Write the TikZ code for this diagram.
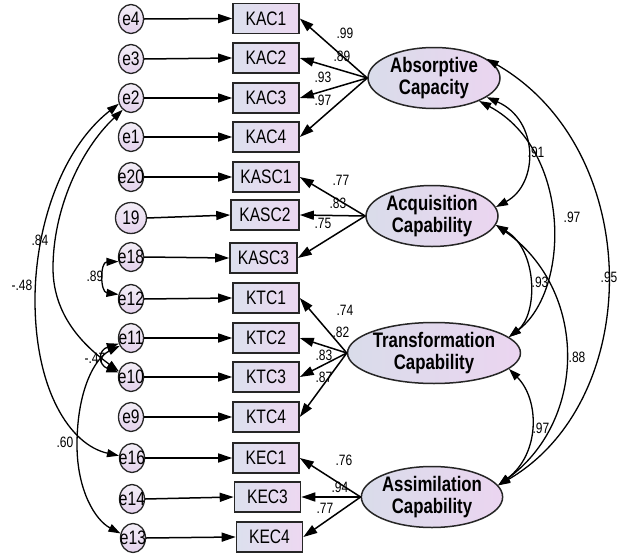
\documentclass[tikz,border=0pt]{standalone}
\usepackage{fontspec}
\setmainfont{Liberation Sans}
\newfontfamily\nsans[FakeStretch=0.8]{Liberation Sans}
\usetikzlibrary{arrows.meta,shapes.geometric}
\definecolor{errtop}{HTML}{F3EEF7}
\definecolor{errbot}{HTML}{E4D2EC}
\definecolor{boxl}{HTML}{DCE0EE}
\definecolor{boxr}{HTML}{EDD8F1}
\definecolor{ell}{HTML}{D9DCEA}
\definecolor{elr}{HTML}{EBD5F0}
\begin{document}
\begin{tikzpicture}[x=1pt,y=-1pt,
  errc/.style={ellipse,draw=black!85,line width=1.3pt,top color=errtop,bottom color=errbot,minimum width=25pt,minimum height=29pt,inner sep=0pt},
  errtxt/.style={font=\nsans\fontsize{19.5}{21}\selectfont,inner sep=0pt},
  obs/.style={rectangle,draw=black!85,line width=1.6pt,left color=boxl,right color=boxr,minimum width=66pt,minimum height=30pt,inner sep=0pt,font=\nsans\fontsize{19.5}{21}\selectfont},
  lat/.style={ellipse,draw=black!85,line width=1.5pt,left color=ell,right color=elr,minimum width=132pt,minimum height=61pt,inner sep=0pt,align=center,font=\nsans\bfseries\fontsize{21}{22}\selectfont},
  num/.style={font=\nsans\fontsize{15}{17}\selectfont,inner sep=0pt},
  arr/.style={line width=1.5pt,-{Triangle[length=14pt,width=9pt]}},
  cov/.style={line width=1.3pt,{Triangle[length=12pt,width=8pt]}-{Triangle[length=12pt,width=8pt]}}
]
\fill[white] (0,0) rectangle (619,557);
\useasboundingbox (0,0) rectangle (619,557);

% error terms
\node[errc,label={[errtxt]center:e4}] (e4) at (131,19) {};
\node[errc,label={[errtxt]center:e3}] (e3) at (131,59) {};
\node[errc,label={[errtxt]center:e2}] (e2) at (131,98) {};
\node[errc,label={[errtxt]center:e1}] (e1) at (131,137) {};
\node[errc,label={[errtxt]center:e20}] (e20) at (131,177) {};
\node[errc,minimum width=31pt,minimum height=31pt,label={[errtxt]center:19}] (e19) at (131,218) {};
\node[errc,label={[errtxt]center:e18}] (e18) at (131,257) {};
\node[errc,label={[errtxt]center:e12}] (e12) at (131,299) {};
\node[errc,label={[errtxt]center:e11}] (e11) at (131,338) {};
\node[errc,label={[errtxt]center:e10}] (e10) at (131,377) {};
\node[errc,label={[errtxt]center:e9}] (e9) at (131,417) {};
\node[errc,label={[errtxt]center:e16}] (e16) at (132,458) {};
\node[errc,label={[errtxt]center:e14}] (e14) at (132,499) {};
\node[errc,label={[errtxt]center:e13}] (e13) at (133,538) {};

% observed
\node[obs] (kac1) at (266,18.5) {KAC1};
\node[obs] (kac2) at (266,58) {KAC2};
\node[obs] (kac3) at (266,98) {KAC3};
\node[obs] (kac4) at (266,137) {KAC4};
\node[obs] (kasc1) at (266,177) {KASC1};
\node[obs,minimum width=68pt] (kasc2) at (265,215) {KASC2};
\node[obs,minimum width=67pt] (kasc3) at (263.5,258) {KASC3};
\node[obs] (ktc1) at (266,298) {KTC1};
\node[obs] (ktc2) at (266,338) {KTC2};
\node[obs] (ktc3) at (266,377) {KTC3};
\node[obs] (ktc4) at (266,417) {KTC4};
\node[obs] (kec1) at (266,458) {KEC1};
\node[obs] (kec3) at (267.5,497) {KEC3};
\node[obs] (kec4) at (269.5,537) {KEC4};

% latent
\node[lat] (abs) at (434,78) {Absorptive\\Capacity};
\node[lat] (acq) at (432,216) {Acquisition\\Capability};
\node[lat] (tra) at (434,353) {Transformation\\Capability};
\node[lat] (asm) at (432,497) {Assimilation\\Capability};

% error arrows
\foreach \e/\b in {e4/kac1,e3/kac2,e2/kac3,e1/kac4,e20/kasc1,e19/kasc2,e18/kasc3,e12/ktc1,e11/ktc2,e10/ktc3,e9/ktc4,e16/kec1,e14/kec3,e13/kec4}
  \draw[arr] (\e.east) -- (\b.west);

% loadings
\foreach \b in {kac1,kac2,kac3,kac4} \draw[arr] (abs.west) -- (\b.east);
\foreach \b in {kasc1,kasc2,kasc3} \draw[arr] (acq.west) -- (\b.east);
\foreach \b in {ktc1,ktc2,ktc3,ktc4} \draw[arr] (tra.west) -- (\b.east);
\foreach \b in {kec1,kec3,kec4} \draw[arr] (asm.west) -- (\b.east);

\node[num] (n1) at (345,33) {.99};
\node[num] (n2) at (342,56) {.89};
\node[num] (n3) at (323,77) {.93};
\node[num] (n4) at (323,100) {.97};
\node[num] (n5) at (341,180) {.77};
\node[num] (n6) at (338,203) {.83};
\node[num] (n7) at (323,223) {.75};
\node[num] (n8) at (345,310) {.74};
\node[num] (n9) at (341,332) {.82};
\node[num] (n10) at (324,355) {.83};
\node[num] (n11) at (324,377) {.87};
\node[num] (n12) at (344,460) {.76};
\node[num] (n13) at (340,487) {.94};
\node[num] (n14) at (325,508) {.77};

% latent covariances
\draw[cov] (abs.20) .. controls (645,150) and (645,400) .. (asm.10);
\draw[cov] (abs.333) .. controls (571,150) and (571,290) .. (tra.12);
\draw[cov] (abs.340) .. controls (539,120) and (539,184) .. (acq.8);
\draw[cov] (acq.352) .. controls (538,250) and (538,314) .. (tra.12);
\draw[cov] (acq.352) .. controls (588,290) and (588,420) .. (asm.10);
\draw[cov] (tra.348) .. controls (540,400) and (540,454) .. (asm.10);
\node[num] (r1) at (536,152) {.91};
\node[num] (r2) at (572,217) {.97};
\node[num] (r3) at (609,277) {.95};
\node[num] (r4) at (540,282) {.93};
\node[num] (r5) at (577,357) {.88};
\node[num] (r6) at (541,428) {.97};

% error covariances
\draw[cov] (e2.205) .. controls (60,150) and (35,230) .. (35,300) .. controls (35,390) and (70,445) .. (e16.170);
\draw[cov] (e2.235) .. controls (80,150) and (53,210) .. (53,268) .. controls (53,320) and (90,350) .. (e10.155);
\draw[cov] (e18.200) .. controls (100,262) and (100,292) .. (e12.160);
\draw[cov] (e11.205) .. controls (98,350) and (98,365) .. (e10.160);
\draw[cov] (e11.215) .. controls (95,358) and (77,390) .. (77,445) .. controls (77,490) and (95,520) .. (e13.160);
\node[num] (l1) at (40,240) {.84};
\node[num] (l2) at (22,285) {-.48};
\node[num] (l3) at (95,276) {.89};
\node[num] (l4) at (95,358) {-.47};
\node[num] (l5) at (65,442) {.60};
\end{tikzpicture}
\end{document}
